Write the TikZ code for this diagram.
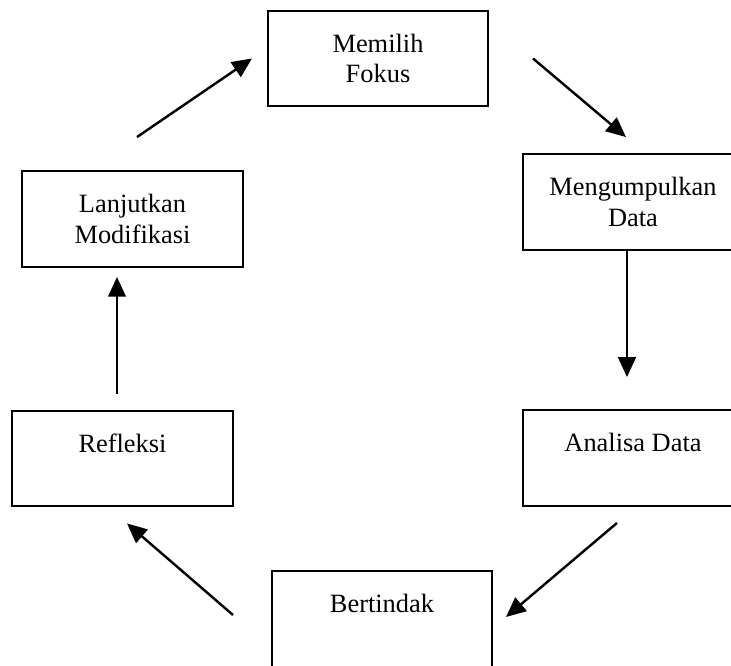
\documentclass[tikz,border=0pt]{standalone}
\usepackage{fontspec}
\setmainfont{Liberation Serif}
\usetikzlibrary{arrows.meta}
\begin{document}
\begin{tikzpicture}[x=0.4545pt,y=-0.4545pt,>={Triangle[length=9pt,width=8pt]},
  stage/.style={draw=black,line width=0.9pt,align=center,minimum width=100pt,minimum height=43.6pt,inner sep=2pt,font=\fontsize{12}{14}\selectfont},
  flow/.style={->,line width=1.1pt}]
\useasboundingbox (0,0) rectangle (731,666);
\node[stage] (fokus) at (378,58.5) {Memilih\\Fokus};
\node[stage] (data) at (633,202) {Mengumpulkan\\Data};
\node[stage] (analisa) at (633,458) {Analisa Data\\~};
\node[stage] (tindak) at (382,619) {Bertindak\\~};
\node[stage] (refleksi) at (122.5,458.5) {Refleksi\\~};
\node[stage] (modif) at (132.5,219) {Lanjutkan\\Modifikasi};
\draw[flow] ([shift={(4.5,-33)}]modif.north) -- ([shift={(-15,0)}]fokus.west);
\draw[flow] ([shift={(44,0)}]fokus.east) -- ([shift={(-7,-16)}]data.north);
\draw[flow] ([shift={(-6,0)}]data.south) -- ([shift={(-6,-32)}]analisa.north);
\draw[flow] ([shift={(-16,16)}]analisa.south) -- ([shift={(13,-2)}]tindak.east);
\draw[flow] ([shift={(-38,-4)}]tindak.west) -- ([shift={(4.5,16)}]refleksi.south);
\draw[flow] ([shift={(-5.5,-16)}]refleksi.north) -- ([shift={(-15.5,9)}]modif.south);
\end{tikzpicture}
\end{document}
